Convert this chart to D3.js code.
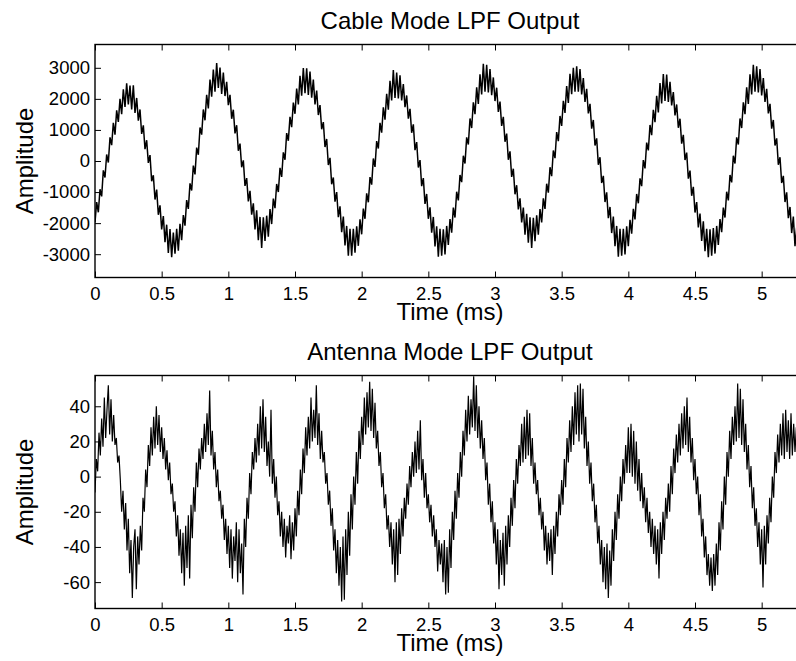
<!DOCTYPE html>
<html>
<head>
<meta charset="utf-8">
<script src="https://cdn.jsdelivr.net/npm/d3@7"></script>
<style>
  body { margin: 0; background: #fff; }
  svg { display: block; }
  text { font-family: "Liberation Sans", Arial, Helvetica, sans-serif; fill: #000; }
</style>
</head>
<body>
<svg id="chart" width="796" height="661"></svg>
<script>
// x axis (ms)
const timeTicks = [0, 0.5, 1, 1.5, 2, 2.5, 3, 3.5, 4, 4.5, 5];
const cableTicks = [-3000, -2000, -1000, 0, 1000, 2000, 3000];
const antennaTicks = [-60, -40, -20, 0, 20, 40];

// cable mode samples, one every 0.0125 ms
const cableStep = 0.0125;
const cableValues = [
  -1980, -1320, -1650, -910, -1140, -300, -530, 210, -50, 760, 510, 1230, 850, 1630, 1260, 2000, 1510, 2310, 1740, 2500, 1820,
  2430, 1660, 2440, 1550, 2030, 1300, 1660, 870, 1150, 380, 670, -60, 190, -650, -460, -1240, -920, -1730, -1430, -2200, -1770, -2610, -2050, -2960, -2190, -3100, -2300,
  -2980, -2180, -2890, -2020, -2550, -1740, -2080, -1260, -1540, -720, -950, -150, -430, 430, 200, 1080, 850, 1660, 1310, 2130, 1690, 2620, 2070, 2940, 2230, 3150, 2350,
  3010, 2160, 2850, 2090, 2550, 1800, 2130, 1360, 1650, 890, 1150, 330, 560, -200, 20, -800, -550, -1300, -960, -1730, -1360, -2200, -1590, -2550, -1800, -2800,
  -1810, -2570, -1760, -2440, -1550, -2030, -1210, -1520, -740, -1000, -220, -510, 280, 40, 900, 650, 1420, 1090, 1880, 1520, 2330, 1820, 2740, 2100, 2990, 2180, 2980,
  2130, 2880, 2040, 2620, 1820, 2270, 1480, 1800, 1020, 1250, 450, 710, -130, 100, -750, -530, -1310, -1000, -1810, -1460, -2290, -1790, -2720, -2090, -3050, -2180, -3050,
  -2180, -2950, -2100, -2730, -1880, -2360, -1530, -1860, -1040, -1330, -520, -760, 80, -190, 640, 400, 1230, 910, 1730, 1330, 2160, 1650, 2580, 1950, 2930, 2030, 2850,
  2010, 2760, 1950, 2480, 1730, 2110, 1360, 1680, 910, 1180, 350, 610, -210, 30, -810, -550, -1380, -1060, -1860, -1490, -2310, -1800, -2750, -2100, -3080, -2180, -3050,
  -2200, -3010, -2090, -2700, -1870, -2310, -1500, -1820, -990, -1270, -450, -680, 170, -80, 760, 530, 1370, 1060, 1890, 1510, 2370, 1840, 2790, 2140, 3130, 2230, 3100,
  2210, 2960, 2120, 2690, 1930, 2360, 1580, 1910, 1130, 1420, 620, 880, 40, 310, -510, -250, -1070, -780, -1560, -1200, -1980, -1500, -2370, -1700, -2630, -1810, -2800,
  -1830, -2580, -1750, -2370, -1550, -1980, -1200, -1540, -730, -1020, -200, -490, 340, 90, 930, 640, 1450, 1130, 1940, 1550, 2410, 1870, 2810, 2150, 3000, 2230, 3050,
  2230, 2960, 2140, 2670, 1900, 2320, 1530, 1840, 1040, 1320, 500, 730, -120, 120, -710, -480, -1320, -1010, -1840, -1480, -2320, -1790, -2740, -2090, -3080, -2180, -3050,
  -2180, -3010, -2100, -2740, -1890, -2340, -1540, -1880, -1060, -1360, -560, -810, 30, -240, 590, 340, 1160, 830, 1650, 1250, 2100, 1560, 2510, 1850, 2800, 1930,
  2780, 1900, 2550, 1790, 2220, 1470, 1820, 1070, 1360, 560, 840, 30, 270, -570, -310, -1120, -830, -1660, -1320, -2140, -1690, -2570, -1940, -2900, -2180, -3100, -2200, -3050,
  -2160, -2980, -2090, -2700, -1870, -2290, -1500, -1820, -990, -1270, -450, -690, 170, -80, 760, 530, 1370, 1060, 1890, 1510, 2370, 1840, 2790, 2140, 3100, 2230, 3050,
  2210, 2960, 2110, 2670, 1900, 2320, 1530, 1840, 1040, 1320, 500, 730, -120, 120, -710, -480, -1320, -1010, -1840, -1480, -2320, -1790, -2740, -2140
];

// antenna mode samples, one every 0.01 ms
const antennaStep = 0.01;
const antennaValues = [
  -9, 10, 3, 25, 12, 33, 17, 45, 22, 38,
  52, 24, 44, 20, 35, 18, 22, 8, 12, -2,
  -20, -8, -30, -15, -42, -24, -55, -36, -69, -40,
  -30, -64, -34, -50, -28, -42, -12, -20, 4, -6,
  18, 6, 28, 12, 34, 16, 40, 18, 35, 14,
  28, 10, 22, 4, 15, -2, 8, -10, -4, -20,
  -14, -34, -22, -45, -30, -55, -32, -62, -28, -52,
  -22, -58, -16, -35, -6, -20, 8, -6, 16, 4,
  22, 10, 30, 14, 36, 18, 49, 12, 26, 4,
  14, -6, 4, -14, -8, -24, -16, -36, -24, -44,
  -28, -52, -30, -58, -34, -48, -26, -60, -30, -55,
  -38, -67, -24, -40, -12, -24, 2, -10, 14, 4,
  22, 8, 30, 12, 40, 16, 44, 14, 34, 6,
  20, 0, 38, -4, 10, -12, 0, -22, -14, -34,
  -20, -40, -24, -46, -28, -38, -22, -47, -26, -42,
  -18, -34, -8, -22, 4, -10, 16, 2, 28, 12,
  34, 16, 45, 20, 38, 22, 52, 18, 36, 10,
  26, 8, 14, -4, 2, -16, -8, -28, -18, -42,
  -30, -55, -36, -62, -40, -71, -34, -70, -30, -56,
  -20, -45, -10, -30, 0, -16, 14, -4, 26, 10,
  34, 18, 45, 24, 48, 28, 54, 26, 50, 22,
  42, 16, 26, 6, 14, -6, 2, -18, -10, -30,
  -22, -40, -26, -50, -30, -60, -26, -56, -24, -44,
  -18, -34, -12, -24, -4, -16, 6, -6, 14, 0,
  20, 2, 26, 4, 32, -2, 10, -12, 2, -18,
  -10, -26, -16, -34, -22, -40, -30, -54, -36, -50,
  -38, -60, -36, -67, -40, -66, -30, -52, -20, -36,
  -8, -24, 2, -12, 14, 0, 26, 12, 38, 20,
  46, 24, 44, 28, 57, 26, 52, 22, 40, 16,
  32, 10, 22, -2, 8, -16, -4, -26, -14, -38,
  -26, -50, -30, -64, -36, -56, -32, -62, -28, -50,
  -22, -40, -12, -28, -2, -18, 10, -4, 18, 6,
  30, 8, 34, 10, 38, 12, 36, 6, 22, -4,
  8, -10, -2, -22, -12, -30, -20, -42, -28, -50,
  -32, -48, -30, -56, -28, -44, -20, -34, -10, -22,
  -2, -16, 10, -6, 22, 8, 32, 14, 40, 18,
  48, 24, 52, 20, 53, 24, 50, 16, 34, 6,
  20, -4, 8, -14, -4, -26, -16, -38, -28, -50,
  -36, -60, -40, -64, -38, -69, -42, -62, -30, -48,
  -20, -36, -10, -24, 0, -14, 10, -4, 18, 2,
  28, 2, 30, 0, 26, -4, 20, -8, 10, -14,
  2, -18, -6, -26, -12, -32, -20, -40, -24, -44,
  -28, -50, -30, -58, -26, -44, -20, -36, -12, -24,
  -4, -20, 6, -10, 16, 2, 24, 8, 30, 12,
  36, 16, 40, 18, 45, 14, 34, 8, 22, -2,
  10, -10, 0, -22, -10, -34, -24, -46, -34, -56,
  -44, -62, -46, -65, -44, -62, -38, -56, -26, -42,
  -14, -30, 0, -16, 14, 0, 26, 10, 34, 18,
  40, 20, 53, 22, 50, 18, 44, 14, 30, 4,
  18, -6, 6, -18, -6, -28, -18, -40, -26, -50,
  -30, -63, -28, -50, -22, -38, -12, -26, 0, -12,
  14, 2, 24, 8, 30, 12, 36, 10, 38, 14,
  32, 10, 36, 12, 30, 14, 28
];

const panels = [
  { title: 'Cable Mode LPF Output', values: cableValues, step: cableStep, stroke: 1.5,
    yDomain: [-3750, 3750], yTicks: cableTicks, top: 44.5, bottom: 277.5 },
  { title: 'Antenna Mode LPF Output', values: antennaValues, step: antennaStep, stroke: 1.2,
    yDomain: [-75, 57.5], yTicks: antennaTicks, top: 375.5, bottom: 608.5 },
];

const svg = d3.select('#chart');
const left = 95;
const right = 805; // axes run past the right edge of the image
const fmt = (d) => String(d);

panels.forEach((p, idx) => {
  const x = d3.scaleLinear().domain([0, 5.325]).range([left, right]);
  const y = d3.scaleLinear().domain(p.yDomain).range([p.bottom, p.top]);
  const g = svg.append('g');

  g.append('clipPath')
    .attr('id', `clip${idx}`)
    .append('rect')
      .attr('x', left)
      .attr('y', p.top)
      .attr('width', right - left)
      .attr('height', p.bottom - p.top);

  const line = d3.line()
    .x((d, i) => x(i * p.step))
    .y((d) => y(d));

  g.append('path')
    .datum(p.values)
    .attr('clip-path', `url(#clip${idx})`)
    .attr('fill', 'none')
    .attr('stroke', '#000')
    .attr('stroke-width', p.stroke)
    .attr('stroke-linejoin', 'miter')
    .attr('d', line);

  // inward ticks, MATLAB style
  const xb = g.append('g')
    .attr('transform', `translate(0,${p.bottom})`)
    .call(d3.axisBottom(x).tickValues(timeTicks).tickFormat(fmt)
      .tickSizeInner(-6).tickSizeOuter(0).tickPadding(9));
  const xt = g.append('g')
    .attr('transform', `translate(0,${p.top})`)
    .call(d3.axisTop(x).tickValues(timeTicks).tickFormat('')
      .tickSizeInner(-6).tickSizeOuter(0));
  const yl = g.append('g')
    .attr('transform', `translate(${left},0)`)
    .call(d3.axisLeft(y).tickValues(p.yTicks).tickFormat(fmt)
      .tickSizeInner(-6).tickSizeOuter(0).tickPadding(5));

  [xb, xt, yl].forEach((a) => {
    a.select('.domain').remove();
    a.selectAll('line').attr('stroke', '#000').attr('stroke-width', 1);
    a.selectAll('text').attr('font-size', 18.5).attr('fill', '#000')
      .attr('font-family', '"Liberation Sans", Arial, Helvetica, sans-serif');
  });

  g.append('rect')
    .attr('x', left)
    .attr('y', p.top)
    .attr('width', right - left)
    .attr('height', p.bottom - p.top)
    .attr('fill', 'none')
    .attr('stroke', '#000')
    .attr('stroke-width', 1.4);

  const cx = (left + right) / 2;
  g.append('text')
    .attr('x', cx)
    .attr('y', p.top - 16)
    .attr('text-anchor', 'middle')
    .attr('font-size', 24)
    .text(p.title);

  g.append('text')
    .attr('x', cx)
    .attr('y', p.bottom + 42)
    .attr('text-anchor', 'middle')
    .attr('font-size', 24)
    .text('Time (ms)');

  g.append('text')
    .attr('transform', `translate(33,${(p.top + p.bottom) / 2}) rotate(-90)`)
    .attr('text-anchor', 'middle')
    .attr('font-size', 24)
    .text('Amplitude');
});
</script>
</body>
</html>
